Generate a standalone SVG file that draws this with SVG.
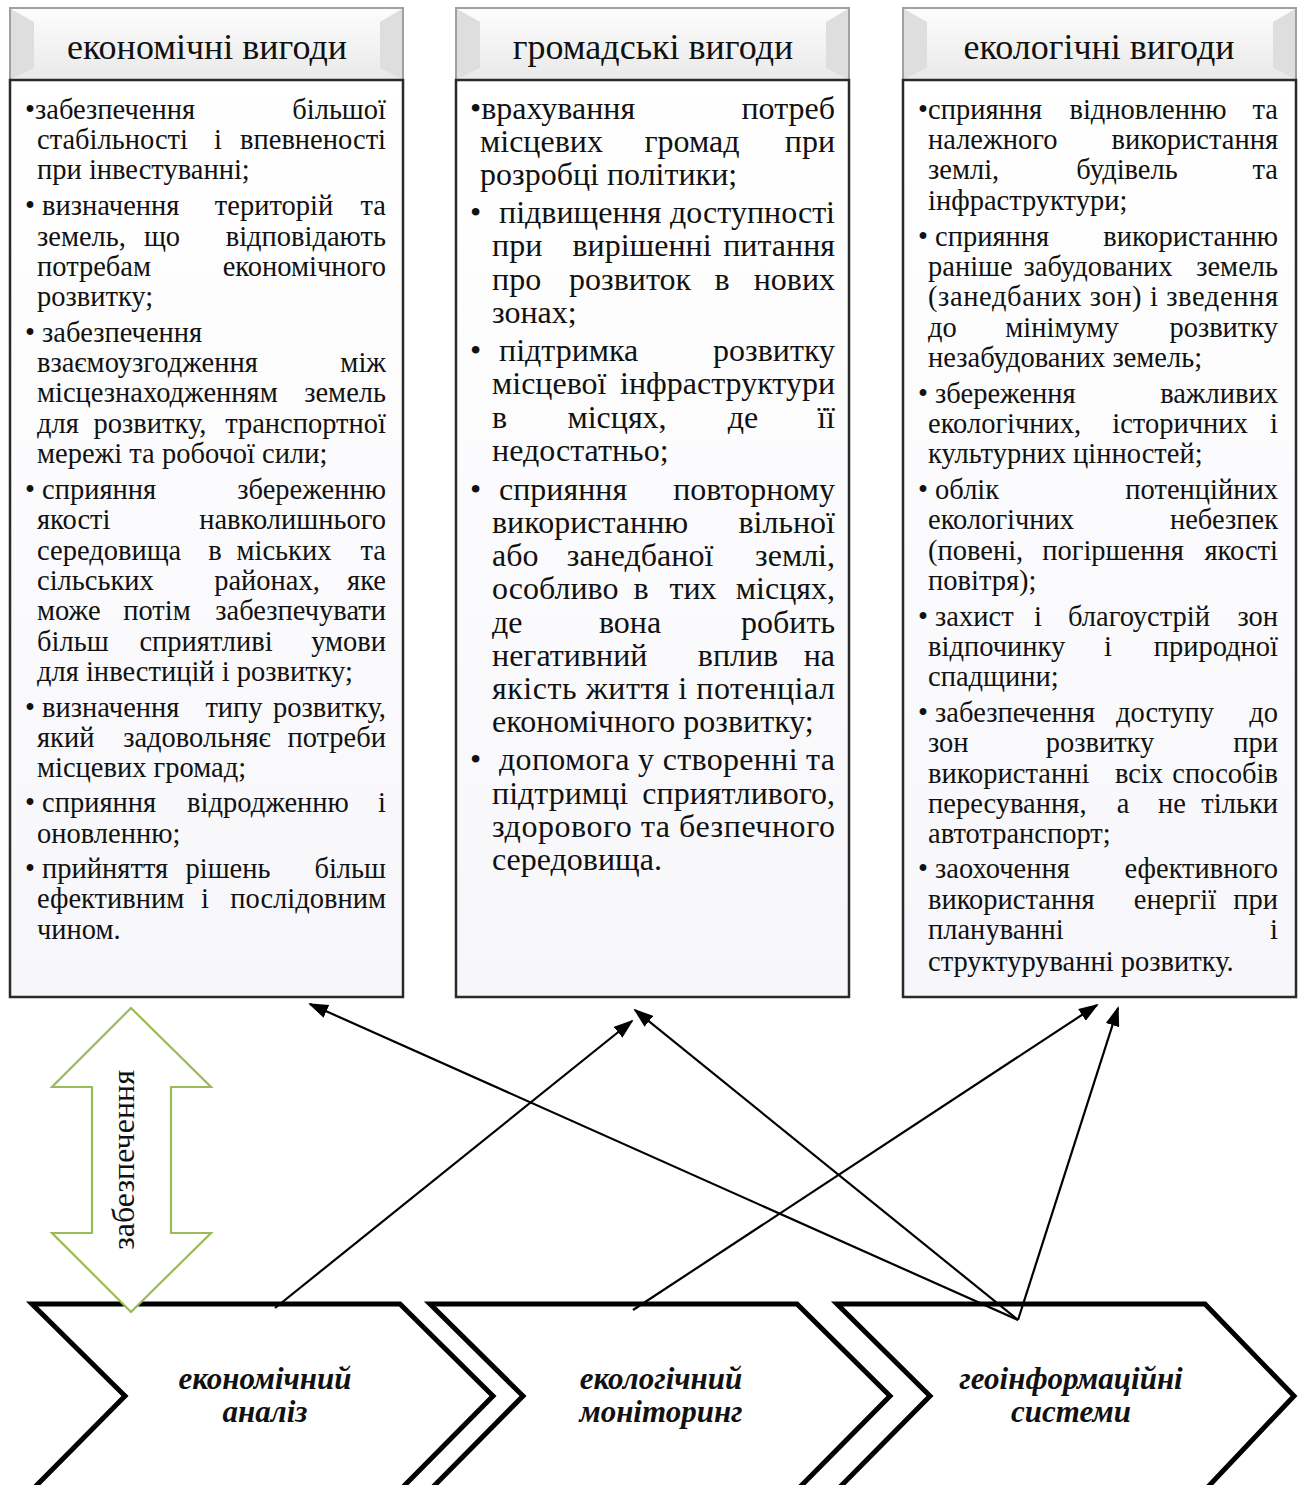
<svg xmlns="http://www.w3.org/2000/svg" width="1298" height="1485" viewBox="0 0 1298 1485">
<defs>
<linearGradient id="hdr" x1="0" y1="0" x2="0" y2="1"><stop offset="0" stop-color="#fdfdfd"/><stop offset="1" stop-color="#e9e9e9"/></linearGradient>
<linearGradient id="body" x1="0" y1="0" x2="0" y2="1"><stop offset="0" stop-color="#ffffff"/><stop offset="1" stop-color="#f7f7fb"/></linearGradient>
<marker id="ah" markerWidth="20" markerHeight="14" refX="18" refY="7" orient="auto" markerUnits="userSpaceOnUse"><path d="M0,0 L20,7 L0,14 Z" fill="#000"/></marker>
<style>
.hd{fill:url(#hdr);stroke:#a0a0a0;stroke-width:2}
.bev{fill:#dedede}
.bx{fill:url(#body);stroke:#2a2a2a;stroke-width:2.5}
.ht{font-family:"Liberation Serif","Times New Roman",serif;font-size:36px;fill:#111;text-anchor:middle}
.t1{font-family:"Liberation Serif","Times New Roman",serif;font-size:28.5px;fill:#111}
.t2{font-family:"Liberation Serif","Times New Roman",serif;font-size:32px;fill:#111}
.e{text-anchor:end}
.m{text-anchor:middle}
.chev{fill:#fff;stroke:#000;stroke-width:5;stroke-linejoin:miter}
.ct{font-family:"Liberation Serif","Times New Roman",serif;font-size:31px;font-weight:bold;font-style:italic;fill:#111;text-anchor:middle}
.con{stroke:#000;stroke-width:2.2;fill:none}
.dbl{fill:#fff;stroke:#9bbb59;stroke-width:2.2}
.vt{font-family:"Liberation Serif","Times New Roman",serif;font-size:32px;fill:#111;text-anchor:middle}
</style>
</defs>
<rect width="1298" height="1485" fill="#fff"/>

<g id="col-econ">
<rect class="hd" x="10" y="8" width="393" height="72"/>
<polygon class="bev" points="11,9 34,22 34,68 11,79"/>
<polygon class="bev" points="402,9 380,22 380,68 402,79"/>
<text class="ht" x="207" y="59">економічні вигоди</text>
<rect class="bx" x="10" y="80" width="393" height="917"/>
<g class="t1">
<text x="25" y="119">•забезпечення</text><text class="e" x="386" y="119">більшої</text>
<text x="37" y="149">стабільності</text><text class="m" x="218" y="149">і</text><text class="e" x="386" y="149">впевненості</text>
<text x="37" y="179">при інвестуванні;</text>
<text x="25" y="215">• визначення</text><text class="m" x="274" y="215">територій</text><text class="e" x="386" y="215">та</text>
<text x="37" y="246">земель,</text><text class="m" x="162" y="246">що</text><text class="e" x="386" y="246">відповідають</text>
<text x="37" y="276">потребам</text><text class="e" x="386" y="276">економічного</text>
<text x="37" y="306">розвитку;</text>
<text x="25" y="342">• забезпечення</text>
<text x="37" y="372">взаємоузгодження</text><text class="e" x="386" y="372">між</text>
<text x="37" y="402">місцезнаходженням</text><text class="e" x="386" y="402">земель</text>
<text x="37" y="433">для</text><text class="m" x="150" y="433">розвитку,</text><text class="e" x="386" y="433">транспортної</text>
<text x="37" y="463">мережі та робочої сили;</text>
<text x="25" y="499">• сприяння</text><text class="e" x="386" y="499">збереженню</text>
<text x="37" y="529">якості</text><text class="e" x="386" y="529">навколишнього</text>
<text x="37" y="560">середовища</text><text class="m" x="215" y="560">в</text><text class="m" x="284" y="560">міських</text><text class="e" x="386" y="560">та</text>
<text x="37" y="590">сільських</text><text class="m" x="267" y="590">районах,</text><text class="e" x="386" y="590">яке</text>
<text x="37" y="620">може</text><text class="m" x="157" y="620">потім</text><text class="e" x="386" y="620">забезпечувати</text>
<text x="37" y="651">більш</text><text class="m" x="206" y="651">сприятливі</text><text class="e" x="386" y="651">умови</text>
<text x="37" y="681">для інвестицій і розвитку;</text>
<text x="25" y="717">• визначення</text><text class="m" x="234" y="717">типу</text><text class="e" x="386" y="717">розвитку,</text>
<text x="37" y="747">який</text><text class="m" x="197" y="747">задовольняє</text><text class="e" x="386" y="747">потреби</text>
<text x="37" y="777">місцевих громад;</text>
<text x="25" y="812">• сприяння</text><text class="m" x="268" y="812">відродженню</text><text class="e" x="386" y="812">і</text>
<text x="37" y="843">оновленню;</text>
<text x="25" y="878">• прийняття</text><text class="m" x="228" y="878">рішень</text><text class="e" x="386" y="878">більш</text>
<text x="37" y="908">ефективним</text><text class="m" x="205" y="908">і</text><text class="e" x="386" y="908">послідовним</text>
<text x="37" y="939">чином.</text>
</g>
</g>

<g id="col-social">
<rect class="hd" x="456" y="8" width="393" height="72"/>
<polygon class="bev" points="457,9 480,22 480,68 457,79"/>
<polygon class="bev" points="848,9 826,22 826,68 848,79"/>
<text class="ht" x="653" y="59">громадські вигоди</text>
<rect class="bx" x="456" y="80" width="393" height="917"/>
<g class="t2">
<text x="470" y="119">•врахування</text><text class="e" x="835" y="119">потреб</text>
<text x="480" y="152">місцевих</text><text class="m" x="692" y="152">громад</text><text class="e" x="835" y="152">при</text>
<text x="480" y="185">розробці політики;</text>
<text x="470" y="223">•</text><text x="499" y="223">підвищення</text><text class="e" x="835" y="223">доступності</text>
<text x="492" y="256">при</text><text class="m" x="642" y="256">вирішенні</text><text class="e" x="835" y="256">питання</text>
<text x="492" y="290">про</text><text class="m" x="630" y="290">розвиток</text><text class="m" x="722" y="290">в</text><text class="e" x="835" y="290">нових</text>
<text x="492" y="323">зонах;</text>
<text x="470" y="361">•</text><text x="499" y="361">підтримка</text><text class="e" x="835" y="361">розвитку</text>
<text x="492" y="394">місцевої</text><text class="e" x="835" y="394">інфраструктури</text>
<text x="492" y="428">в</text><text class="m" x="617" y="428">місцях,</text><text class="m" x="743" y="428">де</text><text class="e" x="835" y="428">її</text>
<text x="492" y="461">недостатньо;</text>
<text x="470" y="500">•</text><text x="499" y="500">сприяння</text><text class="e" x="835" y="500">повторному</text>
<text x="492" y="533">використанню</text><text class="e" x="835" y="533">вільної</text>
<text x="492" y="566">або</text><text class="m" x="640" y="566">занедбаної</text><text class="e" x="835" y="566">землі,</text>
<text x="492" y="599">особливо</text><text class="m" x="641" y="599">в</text><text class="m" x="693" y="599">тих</text><text class="e" x="835" y="599">місцях,</text>
<text x="492" y="633">де</text><text class="m" x="630" y="633">вона</text><text class="e" x="835" y="633">робить</text>
<text x="492" y="666">негативний</text><text class="m" x="738" y="666">вплив</text><text class="e" x="835" y="666">на</text>
<text x="492" y="699" textLength="343" lengthAdjust="spacing">якість життя і потенціал</text>
<text x="492" y="732">економічного розвитку;</text>
<text x="470" y="770">•</text><text x="499" y="770" textLength="336" lengthAdjust="spacing">допомога у створенні та</text>
<text x="492" y="804">підтримці</text><text class="e" x="835" y="804">сприятливого,</text>
<text x="492" y="837" textLength="343" lengthAdjust="spacing">здорового та безпечного</text>
<text x="492" y="870">середовища.</text>
</g>
</g>

<g id="col-eco">
<rect class="hd" x="903" y="8" width="393" height="72"/>
<polygon class="bev" points="904,9 927,22 927,68 904,79"/>
<polygon class="bev" points="1295,9 1273,22 1273,68 1295,79"/>
<text class="ht" x="1099" y="59">екологічні вигоди</text>
<rect class="bx" x="903" y="80" width="393" height="917"/>
<g class="t1">
<text x="918" y="119">•сприяння</text><text class="m" x="1148" y="119">відновленню</text><text class="e" x="1278" y="119">та</text>
<text x="928" y="149">належного</text><text class="e" x="1278" y="149">використання</text>
<text x="928" y="179">землі,</text><text class="m" x="1127" y="179">будівель</text><text class="e" x="1278" y="179">та</text>
<text x="928" y="210">інфраструктури;</text>
<text x="918" y="246">• сприяння</text><text class="e" x="1278" y="246">використанню</text>
<text x="928" y="276">раніше</text><text class="m" x="1098" y="276">забудованих</text><text class="e" x="1278" y="276">земель</text>
<text x="928" y="306" textLength="350" lengthAdjust="spacing">(занедбаних зон) і зведення</text>
<text x="928" y="337">до</text><text class="m" x="1062" y="337">мінімуму</text><text class="e" x="1278" y="337">розвитку</text>
<text x="928" y="367">незабудованих земель;</text>
<text x="918" y="403">• збереження</text><text class="e" x="1278" y="403">важливих</text>
<text x="928" y="433">екологічних,</text><text class="m" x="1180" y="433">історичних</text><text class="e" x="1278" y="433">і</text>
<text x="928" y="463">культурних цінностей;</text>
<text x="918" y="499">• облік</text><text class="e" x="1278" y="499">потенційних</text>
<text x="928" y="529">екологічних</text><text class="e" x="1278" y="529">небезпек</text>
<text x="928" y="560">(повені,</text><text class="m" x="1113" y="560">погіршення</text><text class="e" x="1278" y="560">якості</text>
<text x="928" y="590">повітря);</text>
<text x="918" y="626">• захист</text><text class="m" x="1038" y="626">і</text><text class="m" x="1139" y="626">благоустрій</text><text class="e" x="1278" y="626">зон</text>
<text x="928" y="656">відпочинку</text><text class="m" x="1108" y="656">і</text><text class="e" x="1278" y="656">природної</text>
<text x="928" y="686">спадщини;</text>
<text x="918" y="722">• забезпечення</text><text class="m" x="1165" y="722">доступу</text><text class="e" x="1278" y="722">до</text>
<text x="928" y="752">зон</text><text class="m" x="1100" y="752">розвитку</text><text class="e" x="1278" y="752">при</text>
<text x="928" y="783">використанні</text><text class="m" x="1139" y="783">всіх</text><text class="e" x="1278" y="783">способів</text>
<text x="928" y="813">пересування,</text><text class="m" x="1123" y="813">а</text><text class="m" x="1172" y="813">не</text><text class="e" x="1278" y="813">тільки</text>
<text x="928" y="843">автотранспорт;</text>
<text x="918" y="878">• заохочення</text><text class="e" x="1278" y="878">ефективного</text>
<text x="928" y="909">використання</text><text class="m" x="1175" y="909">енергії</text><text class="e" x="1278" y="909">при</text>
<text x="928" y="939">плануванні</text><text class="e" x="1278" y="939">і</text>
<text x="928" y="971">структуруванні розвитку.</text>
</g>
</g>

<g id="chev-econ">
<polygon class="chev" points="32,1304 400,1304 493,1396 400,1490 32,1490 125,1396"/>
<text class="ct" x="265" y="1389">економічний</text>
<text class="ct" x="265" y="1422">аналіз</text>
</g>
<g id="chev-ecomon">
<polygon class="chev" points="430,1304 797,1304 890,1396 797,1490 430,1490 523,1396"/>
<text class="ct" x="661" y="1389">екологічний</text>
<text class="ct" x="661" y="1422">моніторинг</text>
</g>
<g id="chev-gis">
<polygon class="chev" points="837,1304 1205,1304 1294,1396 1205,1490 837,1490 930,1396"/>
<text class="ct" x="1071" y="1389">геоінформаційні</text>
<text class="ct" x="1071" y="1422">системи</text>
</g>

<g id="provide">
<polygon class="dbl" points="131,1008 211,1087 171,1087 171,1233 211,1233 131,1312 52,1233 92,1233 92,1087 52,1087"/>
<text class="vt" transform="translate(134,1160) rotate(-90)" x="0" y="0">забезпечення</text>
</g>

<g id="connectors">
<line class="con" x1="275" y1="1308" x2="632" y2="1021" marker-end="url(#ah)"/>
<line class="con" x1="633" y1="1310" x2="1097" y2="1005" marker-end="url(#ah)"/>
<line class="con" x1="1018" y1="1320" x2="310" y2="1004" marker-end="url(#ah)"/>
<line class="con" x1="1018" y1="1320" x2="635" y2="1010" marker-end="url(#ah)"/>
<line class="con" x1="1018" y1="1320" x2="1118" y2="1008" marker-end="url(#ah)"/>
</g>
</svg>
